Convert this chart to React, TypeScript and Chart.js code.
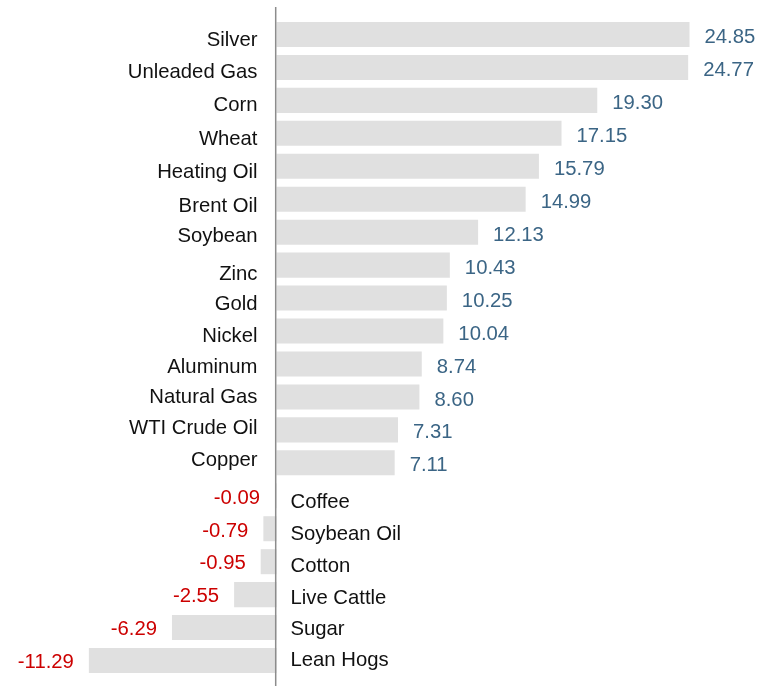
import React, { useEffect, useRef } from "react";
import { Chart, registerables } from "chart.js";

Chart.register(...registerables);

const categories = [
  "Silver", "Unleaded Gas", "Corn", "Wheat", "Heating Oil", "Brent Oil", "Soybean",
  "Zinc", "Gold", "Nickel", "Aluminum", "Natural Gas", "WTI Crude Oil", "Copper",
  "Coffee", "Soybean Oil", "Cotton", "Live Cattle", "Sugar", "Lean Hogs",
];
const values = [
  24.85, 24.77, 19.3, 17.15, 15.79, 14.99, 12.13,
  10.43, 10.25, 10.04, 8.74, 8.6, 7.31, 7.11,
  -0.09, -0.79, -0.95, -2.55, -6.29, -11.29,
];
// vertical baseline offset (px) of each category label relative to its bar centre
const labelBaselineOffset = [12, 11, 11, 12, 12, 13, 10, 15, 12, 11, 9, 6, 4, 3, 12, 11, 10, 9, 7, 5];

const FONT = '20.3px "Liberation Sans", Arial, sans-serif';

const labelPlugin = {
  id: "labelPlugin",
  afterDatasetsDraw(chart: any) {
    const ctx = chart.ctx;
    const meta = chart.getDatasetMeta(0);
    const xs = chart.scales.x;
    const zeroX = xs.getPixelForValue(0);
    ctx.save();
    ctx.strokeStyle = "#8c8c8c";
    ctx.lineWidth = 1.5;
    ctx.beginPath();
    ctx.moveTo(zeroX - 0.8, 7);
    ctx.lineTo(zeroX - 0.8, chart.height);
    ctx.stroke();

    ctx.font = FONT;
    ctx.textBaseline = "alphabetic";
    meta.data.forEach((bar: any, i: number) => {
      const v = values[i];
      const yLabel = bar.y + labelBaselineOffset[i];
      const yVal = bar.y + (v >= 0 ? 8.6 : 7.8);
      const endX = xs.getPixelForValue(v);
      if (v >= 0) {
        ctx.fillStyle = "#111111";
        ctx.textAlign = "right";
        ctx.fillText(categories[i], zeroX - 19, yLabel);
        ctx.fillStyle = "#3b6585";
        ctx.textAlign = "left";
        ctx.fillText(v.toFixed(2), endX + 15, yVal);
      } else {
        ctx.fillStyle = "#111111";
        ctx.textAlign = "left";
        ctx.fillText(categories[i], zeroX + 14, yLabel);
        ctx.fillStyle = "#cc0000";
        ctx.textAlign = "right";
        ctx.fillText(v.toFixed(2), endX - 15, yVal);
      }
    });
    ctx.restore();
  },
};

export default function App() {
  const ref = useRef<HTMLCanvasElement>(null);
  useEffect(() => {
    document.body.style.margin = "0";
    const pxPerUnit = 16.62;
    const zeroPx = 276.5;
    const chart = new Chart(ref.current!, {
      type: "bar",
      data: {
        labels: categories,
        datasets: [
          {
            data: values,
            backgroundColor: "#e0e0e0",
            borderWidth: 0,
            categoryPercentage: 1,
            barPercentage: 0.76,
          },
        ],
      },
      options: {
        indexAxis: "y",
        animation: false,
        responsive: false,
        events: [],
        layout: { padding: { top: 18, bottom: 9, left: 0, right: 0 } },
        plugins: { legend: { display: false }, tooltip: { enabled: false } },
        scales: {
          x: {
            display: false,
            min: -zeroPx / pxPerUnit,
            max: (762 - zeroPx) / pxPerUnit,
          },
          y: { display: false },
        },
      },
      plugins: [labelPlugin],
    });
    return () => chart.destroy();
  }, []);
  return (
    <div style={{ position: "absolute", left: 0, top: 0, width: 762, height: 686, background: "#fff" }}>
      <canvas ref={ref} width={762} height={686} style={{ display: "block" }} />
    </div>
  );
}
